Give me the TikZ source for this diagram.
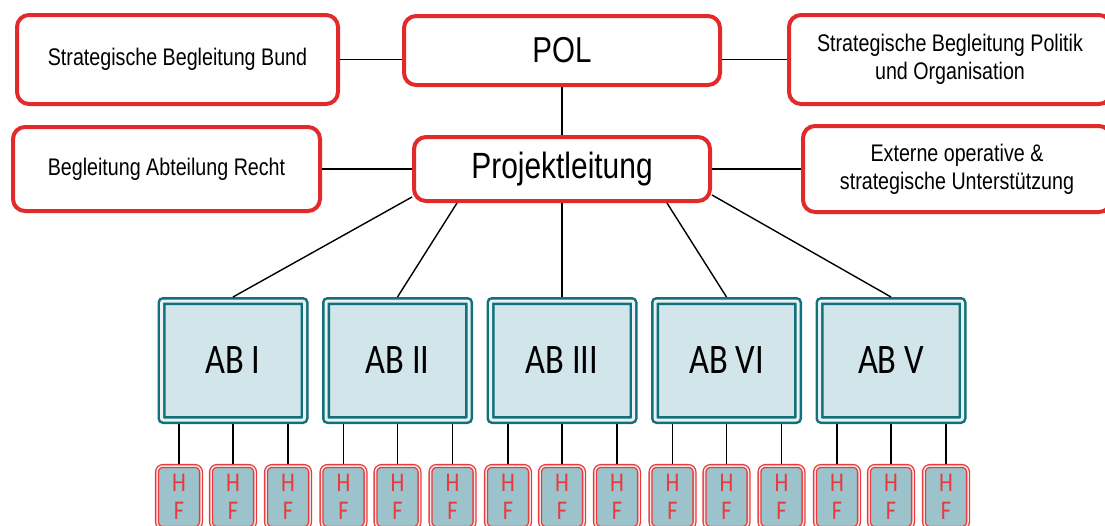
\documentclass[tikz,border=0pt]{standalone}
\usepackage{fontspec}
\setmainfont[FakeStretch=0.82]{Liberation Sans}
\newfontfamily\abfont[FakeStretch=0.82]{Carlito}
\usepackage{xcolor}
\usepackage{tikz}
\usetikzlibrary{positioning}
\definecolor{boxred}{HTML}{E32A2B}
\definecolor{hfred}{HTML}{E63B3C}
\definecolor{abteal}{HTML}{11707A}
\definecolor{abfill}{HTML}{D1E5EA}
\definecolor{abgap}{HTML}{E8F1F3}
\definecolor{hffill}{HTML}{9CC2CB}

\begin{document}
\begin{tikzpicture}[
  x=1pt,y=-1pt,
  redbox/.style={draw=boxred,fill=white,line width=4pt,rounded corners=12pt,
    align=center,inner sep=0pt,font=\fontsize{24}{28}\selectfont},
  abbox/.style={draw=abteal,line width=2.5pt,double=abgap,double distance=3pt,
    fill=abfill,rounded corners=2pt,minimum width=143pt,minimum height=119pt,
    outer sep=4pt,inner sep=0pt,font=\abfont\fontsize{42}{46}\selectfont},
  hf/.style={draw=hfred,line width=1.3pt,double=white!85!hfred,double distance=1.5pt,
    fill=hffill,rounded corners=6pt,minimum width=44pt,minimum height=62pt,
    outer sep=2pt,inner sep=0pt,align=center,text=hfred,
    font=\abfont\fontsize{27}{28.5}\selectfont},
  link/.style={draw=black,line width=1.4pt}
]
\useasboundingbox (0,0) rectangle (1105,525);

% leadership and the advisory boxes round it
\node[redbox,minimum width=316pt,minimum height=69pt,font=\fontsize{36}{40}\selectfont]
  (pol) at (562,50.5) {POL};
\node[redbox,minimum width=296pt,minimum height=64pt,font=\fontsize{36.5}{40}\selectfont,
  below=48pt of pol] (pl) {Projektleitung};
\node[redbox,minimum width=321pt,minimum height=89pt,left=62pt of pol,yshift=-9pt]
  (sbund) {Strategische Begleitung Bund};
\node[redbox,minimum width=322pt,minimum height=89pt,right=65pt of pol,yshift=-9pt]
  (spol) {Strategische Begleitung Politik\\und Organisation};
\node[redbox,minimum width=307pt,minimum height=84pt,left=90pt of pl]
  (recht) {Begleitung Abteilung Recht};
\node[redbox,minimum width=308pt,minimum height=86pt,right=89pt of pl]
  (extern) {Externe operative \&\\strategische Unterstützung};

% Arbeitsbereiche
\node[abbox,below=94pt of pl] (ab3) {AB III};
\node[abbox,left=13.5pt of ab3] (ab2) {AB II};
\node[abbox,left=13.5pt of ab2] (ab1) {AB I};
\node[abbox,right=13.5pt of ab3] (ab4) {AB VI};
\node[abbox,right=13.5pt of ab4] (ab5) {AB V};

% Handlungsfelder
\node[hf,below=40pt of ab1.south,xshift=-54pt] (h1a) {H\\F};
\node[hf,below=40pt of ab1.south] (h1b) {H\\F};
\node[hf,below=40pt of ab1.south,xshift=55pt] (h1c) {H\\F};
\node[hf,below=40pt of ab2.south,xshift=-54pt] (h2a) {H\\F};
\node[hf,below=40pt of ab2.south] (h2b) {H\\F};
\node[hf,below=40pt of ab2.south,xshift=55pt] (h2c) {H\\F};
\node[hf,below=40pt of ab3.south,xshift=-54pt] (h3a) {H\\F};
\node[hf,below=40pt of ab3.south] (h3b) {H\\F};
\node[hf,below=40pt of ab3.south,xshift=55pt] (h3c) {H\\F};
\node[hf,below=40pt of ab4.south,xshift=-54pt] (h4a) {H\\F};
\node[hf,below=40pt of ab4.south] (h4b) {H\\F};
\node[hf,below=40pt of ab4.south,xshift=55pt] (h4c) {H\\F};
\node[hf,below=40pt of ab5.south,xshift=-54pt] (h5a) {H\\F};
\node[hf,below=40pt of ab5.south] (h5b) {H\\F};
\node[hf,below=40pt of ab5.south,xshift=55pt] (h5c) {H\\F};

\draw[link] (sbund.east) -- (sbund.east -| pol.west);
\draw[link] (spol.west -| pol.east) -- (spol.west);
\draw[link] (recht.east) -- (recht.east -| pl.west);
\draw[link] (pl.east) -- (pl.east -| extern.west);
\draw[link] (pol) -- (pl);
\draw[link] ([yshift=6pt]pl.south west) -- (ab1.north);
\draw[link] ([xshift=45pt]pl.south west) -- (ab2.north);
\draw[link] (pl) -- (ab3);
\draw[link] ([xshift=-45pt]pl.south east) -- (ab4.north);
\draw[link] ([yshift=8pt]pl.south east) -- (ab5.north);
\draw[link] (h1a |- ab1.south) -- (h1a); \draw[link] (h1b |- ab1.south) -- (h1b); \draw[link] (h1c |- ab1.south) -- (h1c);
\draw[link] (h2a |- ab2.south) -- (h2a); \draw[link] (h2b |- ab2.south) -- (h2b); \draw[link] (h2c |- ab2.south) -- (h2c);
\draw[link] (h3a |- ab3.south) -- (h3a); \draw[link] (h3b |- ab3.south) -- (h3b); \draw[link] (h3c |- ab3.south) -- (h3c);
\draw[link] (h4a |- ab4.south) -- (h4a); \draw[link] (h4b |- ab4.south) -- (h4b); \draw[link] (h4c |- ab4.south) -- (h4c);
\draw[link] (h5a |- ab5.south) -- (h5a); \draw[link] (h5b |- ab5.south) -- (h5b); \draw[link] (h5c |- ab5.south) -- (h5c);
\end{tikzpicture}
\end{document}
